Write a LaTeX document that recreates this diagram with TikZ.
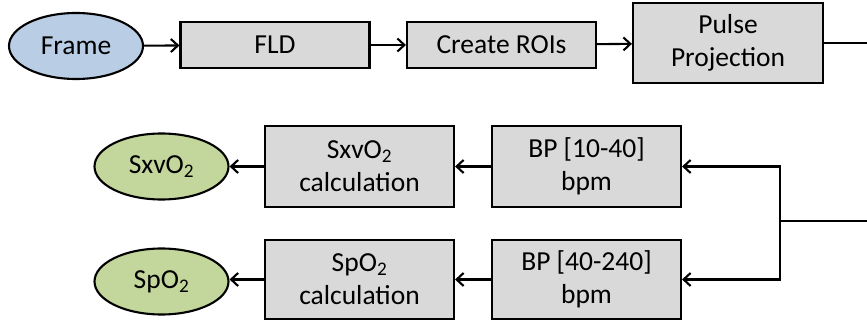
\documentclass[tikz,border=0pt]{standalone}
\usepackage{fontspec}
\setmainfont{Carlito}
\usetikzlibrary{shapes.geometric,arrows.meta}
\definecolor{boxfill}{HTML}{D9D9D9}
\definecolor{bluefill}{HTML}{B9CDE5}
\definecolor{greenfill}{HTML}{C3D69B}
\begin{document}
\begin{tikzpicture}[x=1pt,y=-1pt,
  box/.style={draw=black,line width=2.1pt,fill=boxfill,minimum width=189pt,inner sep=0pt,align=center,font=\fontsize{27.5}{33}\selectfont},
  oval/.style={draw=black,line width=2.1pt,ellipse,minimum width=134pt,minimum height=66pt,inner sep=0pt,font=\fontsize{27.5}{33}\selectfont},
  conn/.style={line width=2.1pt,-{Straight Barb[length=7pt,width=13pt,line width=2.1pt]}},
  wire/.style={line width=2.1pt}]
\useasboundingbox (0,0) rectangle (867,320);
\node[oval,fill=bluefill] (frame) at (76,46) {Frame};
\node[box,minimum height=46pt] (fld) at (275,45) {FLD};
\node[box,minimum height=46pt] (roi) at (501.5,45) {Create ROIs};
\node[box,minimum width=190pt,minimum height=80pt] (pp) at (728,43) {Pulse\\Projection};
\coordinate (e1) at (868,43);
\node[box,minimum height=81pt] (bp1) at (586.5,166.5) {BP [10-40]\\bpm};
\node[box,minimum height=79pt] (bp2) at (586.5,279.5) {BP [40-240]\\bpm};
\node[box,minimum height=81pt] (c1) at (359.5,166.5) {SxvO\textsubscript{2}\\calculation};
\node[box,minimum height=79pt] (c2) at (359.5,279.5) {SpO\textsubscript{2}\\calculation};
\node[oval,fill=greenfill] (o1) at (161.5,166.5) {SxvO\textsubscript{2}};
\node[oval,fill=greenfill] (o2) at (161.5,281.5) {SpO\textsubscript{2}};
\coordinate (e2) at (868,221);
\coordinate (br) at (780,221);
\draw[conn] (frame) -- (fld);
\draw[conn] (fld) -- (roi);
\draw[conn] (roi) -- (pp);
\draw[wire] (pp) -- (e1);
\draw[wire] (e2) -- (br);
\draw[conn] (br) |- (bp1.east);
\draw[conn] (br) |- (bp2.east);
\draw[conn] (bp1) -- (c1);
\draw[conn] (bp2) -- (c2);
\draw[conn] (c1) -- (o1);
\draw[conn] (c2.west) -- (c2.west -| o2.east);
\end{tikzpicture}
\end{document}
